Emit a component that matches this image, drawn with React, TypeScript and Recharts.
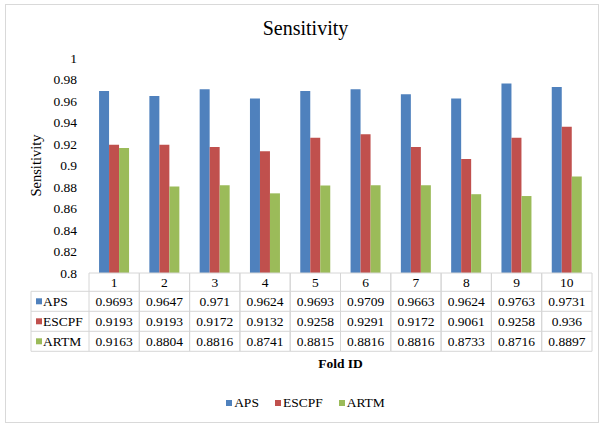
import React from 'react';
import { BarChart, Bar, XAxis, YAxis, Legend } from 'recharts';

const folds = ['1', '2', '3', '4', '5', '6', '7', '8', '9', '10'];
const aps = [0.9693, 0.9647, 0.971, 0.9624, 0.9693, 0.9709, 0.9663, 0.9624, 0.9763, 0.9731];
const escpf = [0.9193, 0.9193, 0.9172, 0.9132, 0.9258, 0.9291, 0.9172, 0.9061, 0.9258, 0.936];
const artm = [0.9163, 0.8804, 0.8816, 0.8741, 0.8815, 0.8816, 0.8816, 0.8733, 0.8716, 0.8897];
const yTicks = [0.8, 0.82, 0.84, 0.86, 0.88, 0.9, 0.92, 0.94, 0.96, 0.98, 1];

const seriesNames = ['APS', 'ESCPF', 'ARTM'];
const seriesColors = ['#4F81BD', '#C0504D', '#9BBB59'];
const seriesValues = [aps, escpf, artm];

const data = folds.map((f, i) => ({ fold: f, APS: aps[i], ESCPF: escpf[i], ARTM: artm[i] }));

const FONT = '"Liberation Serif", "Times New Roman", serif';
const GRID = '#d6d6d6';
const BAND = 50.3;
const HEADER_W = 58;
const ROW0 = 18.3;
const ROW = 20;

const TableTick = (props: any) => {
  const { x, y, index } = props;
  const left = x - BAND / 2;
  const right = x + BAND / 2;
  const bottom = y + ROW0 + 3 * ROW;
  const els: any[] = [];
  els.push(<line key="l" x1={left} x2={left} y1={y} y2={bottom} stroke={GRID} />);
  els.push(<line key="r" x1={right} x2={right} y1={y} y2={bottom} stroke={GRID} />);
  els.push(<line key="t" x1={left} x2={right} y1={y} y2={y} stroke={GRID} />);
  for (let r = 0; r < 3; r++) {
    const ly = y + ROW0 + r * ROW;
    els.push(<line key={'h' + r} x1={left} x2={right} y1={ly} y2={ly} stroke={GRID} />);
  }
  els.push(<line key="b" x1={left} x2={right} y1={bottom} y2={bottom} stroke={GRID} />);
  els.push(
    <text key="c" x={x} y={y + ROW0 / 2} dy="0.35em" textAnchor="middle" fontSize={13.5} fontFamily={FONT} fill="#000">
      {folds[index]}
    </text>
  );
  seriesValues.forEach((vals, r) => {
    els.push(
      <text key={'v' + r} x={x} y={y + ROW0 + r * ROW + ROW / 2} dy="0.35em" textAnchor="middle" fontSize={13.5} fontFamily={FONT} fill="#000">
        {String(vals[index])}
      </text>
    );
  });
  if (index === 0) {
    const hl = left - HEADER_W;
    els.push(<line key="hl" x1={hl} x2={hl} y1={y + ROW0} y2={bottom} stroke={GRID} />);
    for (let r = 0; r <= 3; r++) {
      const ly = y + ROW0 + r * ROW;
      els.push(<line key={'hh' + r} x1={hl} x2={left} y1={ly} y2={ly} stroke={GRID} />);
    }
    seriesNames.forEach((n, r) => {
      const cy = y + ROW0 + r * ROW + ROW / 2;
      els.push(<rect key={'sq' + r} x={hl + 5} y={cy - 3} width={6} height={6} fill={seriesColors[r]} />);
      els.push(
        <text key={'n' + r} x={hl + 12} y={cy} dy="0.35em" textAnchor="start" fontSize={13.5} fontFamily={FONT} fill="#000">
          {n}
        </text>
      );
    });
  }
  if (index === 4) {
    els.push(
      <text key="fold" x={right + 0} y={bottom + 12} dy="0.35em" textAnchor="middle" fontSize={13.5} fontWeight="bold" fontFamily={FONT} fill="#000">
        Fold ID
      </text>
    );
  }
  return <g>{els}</g>;
};

const LegendContent = () => (
  <div style={{ display: 'flex', justifyContent: 'center', fontFamily: FONT, fontSize: 13.5, color: '#000' }}>
    {seriesNames.map((n, i) => (
      <span key={n} style={{ display: 'inline-flex', alignItems: 'center', marginRight: i < 2 ? 16 : 0 }}>
        <span style={{ display: 'inline-block', width: 6, height: 6, background: seriesColors[i], marginRight: 2 }} />
        {n}
      </span>
    ))}
  </div>
);

export default function App() {
  return (
    <div style={{ position: 'absolute', left: 0, top: 0, width: 603, height: 425, background: '#fff' }}>
      <div style={{ position: 'absolute', left: 5, top: 4, width: 592, height: 417, border: '1px solid #d9d9d9' }} />
      <div style={{ position: 'absolute', left: 0, top: 15, width: 611, textAlign: 'center', fontFamily: FONT, fontSize: 20, color: '#000', lineHeight: '26px' }}>
        Sensitivity
      </div>
      <div style={{ position: 'absolute', left: 0, top: 0 }}>
        <BarChart
          width={603}
          height={425}
          data={data}
          margin={{ top: 58, left: 29, right: 11, bottom: 72 }}
          barCategoryGap="20%"
          barGap={0}
        >
          <XAxis dataKey="fold" height={80} axisLine={false} tickLine={false} tickSize={0} tickMargin={0} tick={<TableTick />} interval={0} />
          <YAxis
            width={60}
            domain={[0.8, 1]}
            ticks={yTicks}
            axisLine={false}
            tickLine={false}
            tickSize={6}
            tickMargin={6}
            tickFormatter={(v: number) => String(+v.toFixed(2))}
            tick={{ fontSize: 13.5, fontFamily: FONT, fill: '#000' }}
            label={{ value: 'Sensitivity', angle: -90, position: 'insideLeft', offset: 0, dx: 7, style: { fontSize: 14.5, fontFamily: FONT, fill: '#000', textAnchor: 'middle' } }}
          />
          <Legend
            layout="horizontal"
            verticalAlign="middle"
            align="center"
            wrapperStyle={{ top: 395, left: 4, width: 603 }}
            content={<LegendContent />}
          />
          {seriesNames.map((n, i) => (
            <Bar key={n} dataKey={n} fill={seriesColors[i]} isAnimationActive={false} />
          ))}
        </BarChart>
      </div>
    </div>
  );
}
